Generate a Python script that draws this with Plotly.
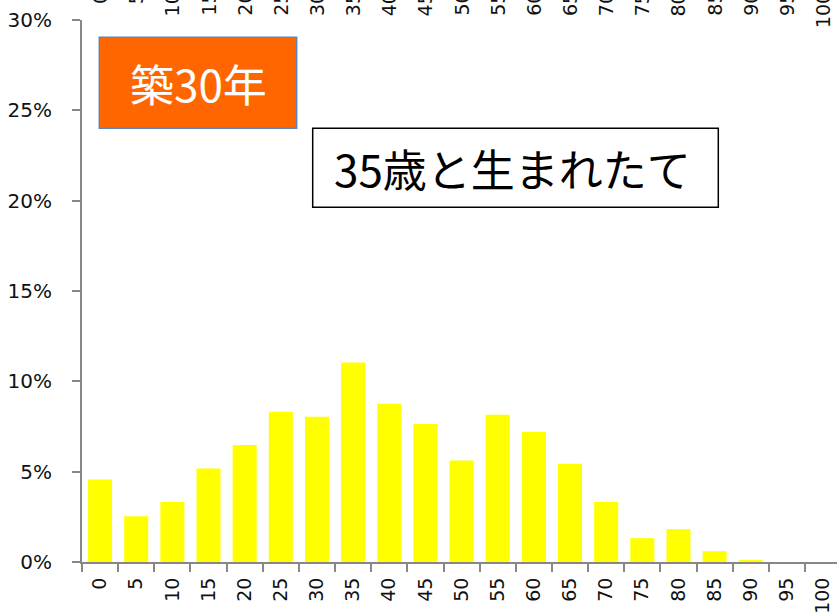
import plotly.graph_objects as go

categories = ["0", "5", "10", "15", "20", "25", "30", "35", "40", "45", "50",
              "55", "60", "65", "70", "75", "80", "85", "90", "95", "100"]
shares = [0.0456, 0.0253, 0.0332, 0.0518, 0.0648, 0.0832, 0.0804, 0.1104,
          0.0876, 0.0764, 0.0562, 0.0815, 0.0720, 0.0544, 0.0332, 0.0132,
          0.0182, 0.0060, 0.0010, 0.0, 0.0]
y_ticks = [0, 0.05, 0.10, 0.15, 0.20, 0.25, 0.30]
badge_text = "築30年"
caption_text = "35歳と生まれたて"

W, H = 837, 616
ML, MR, MT, MB = 82, 0, 20, 54
PW, PH = W - ML - MR, H - MT - MB


def px(x):
    return (x - ML) / PW


def py(y):
    return (H - MB - y) / PH


AXIS = "#878787"
TICKFONT = dict(family="DejaVu Sans", size=19, color="#111111")

fig = go.Figure()
fig.add_trace(go.Bar(x=categories, y=shares, marker=dict(color="#FFFF00", line=dict(width=0)),
                     hoverinfo="skip"))

# cut-off tick labels of the chart stacked above (only their lower ends are visible)
for i, c in enumerate(categories):
    fig.add_annotation(x=i, xref="x", y=1 + (MT + 10) / PH, yref="paper",
                       text=c, textangle=-90, showarrow=False,
                       xanchor="center", yanchor="top", font=TICKFONT)

# orange badge
fig.add_shape(type="rect", xref="paper", yref="paper",
              x0=px(99.3), x1=px(296.7), y0=py(128.3), y1=py(37.3),
              fillcolor="#FF6600", line=dict(color="#5B86C0", width=1.5))
fig.add_annotation(x=px(198), y=py(83), xref="paper", yref="paper", text=badge_text,
                   showarrow=False, xanchor="center", yanchor="middle",
                   font=dict(family="Noto Sans CJK JP", size=44, color="#FFFFFF"))

# white caption box
fig.add_shape(type="rect", xref="paper", yref="paper",
              x0=px(312.7), x1=px(718.3), y0=py(207.3), y1=py(128.3),
              fillcolor="#FFFFFF", line=dict(color="#000000", width=1.5))
fig.add_annotation(x=px(512.5), y=py(168), xref="paper", yref="paper", text=caption_text,
                   showarrow=False, xanchor="center", yanchor="middle",
                   font=dict(family="Noto Sans CJK JP", size=44, color="#000000"))

fig.update_layout(
    width=W, height=H,
    margin=dict(l=ML, r=MR, t=MT, b=MB, pad=0),
    plot_bgcolor="#FFFFFF", paper_bgcolor="#FFFFFF",
    bargap=0.336, showlegend=False,
    xaxis=dict(type="category", range=[-0.5, -0.5 + PW / 36.15],
               showgrid=False, zeroline=False,
               showline=True, linecolor=AXIS, linewidth=2,
               ticks="outside", tickson="boundaries", ticklen=8, tickcolor=AXIS, tickwidth=2,
               tickangle=-90, tickfont=TICKFONT, ticklabelstandoff=6),
    yaxis=dict(range=[0, 0.30], tickvals=y_ticks, tickformat=".0%",
               showgrid=False, zeroline=False,
               showline=True, linecolor=AXIS, linewidth=2,
               ticks="outside", ticklen=8, tickcolor=AXIS, tickwidth=2,
               tickfont=dict(family="DejaVu Sans", size=20, color="#111111"),
               ticklabelstandoff=16),
)

fig.write_html("out.html", config={"displayModeBar": False},
               post_script="document.body.style.margin='0';document.body.style.overflow='hidden';")
